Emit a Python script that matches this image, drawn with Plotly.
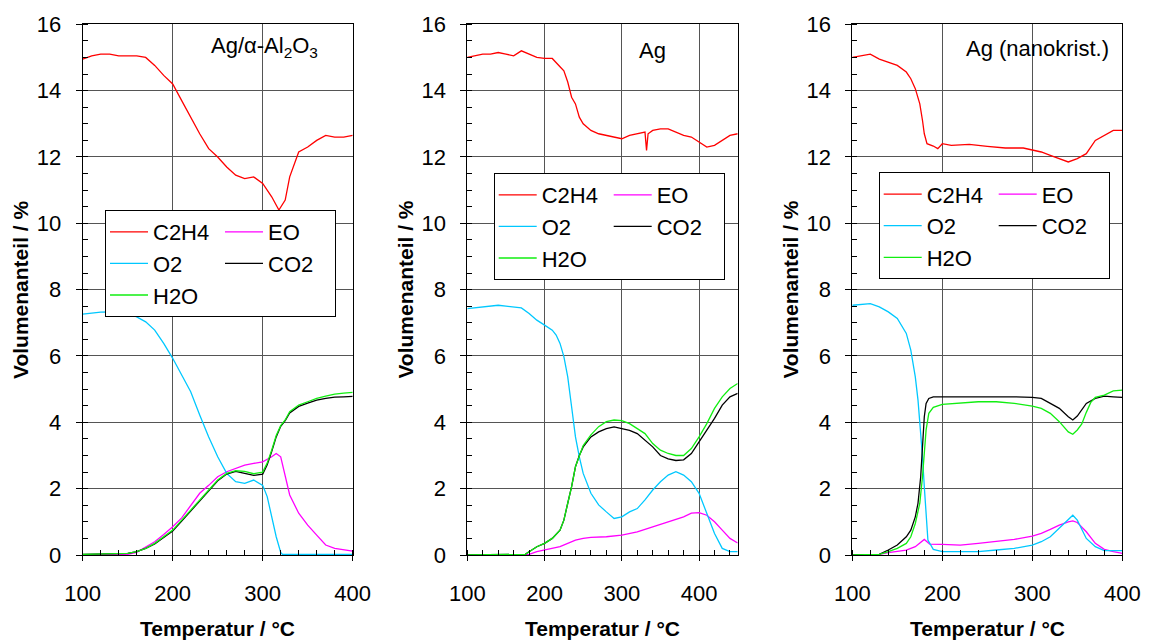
import plotly.graph_objects as go

# ---------------- data ----------------
# Panel 1: Ag/alpha-Al2O3
T1_C2H4 = [100,110,120,130,140,150,160,170,180,190,200,210,220,230,240,250,260,270,280,290,300,310,318,325,330,335,340,350,360,370,380,390,400]
C2H4_1 = [14.95,15.05,15.1,15.1,15.05,15.05,15.05,15.0,14.76,14.46,14.2,13.7,13.2,12.7,12.25,12.0,11.7,11.45,11.35,11.4,11.2,10.8,10.4,10.7,11.4,11.8,12.15,12.3,12.5,12.65,12.6,12.6,12.65]
T1_O2 = [100,110,120,130,140,150,160,170,180,190,200,210,220,230,240,250,260,270,280,290,300,305,310,315,320,322,330,400]
O2_1 = [7.26,7.3,7.32,7.33,7.32,7.3,7.18,7.03,6.78,6.38,5.93,5.42,4.92,4.22,3.56,2.96,2.46,2.21,2.16,2.26,2.1,1.76,1.15,0.55,0.08,0.02,0.02,0.02]
T1_EO = [100,150,160,170,180,190,200,210,220,230,240,250,260,270,280,290,300,310,315,320,325,330,340,350,360,370,380,390,400]
EO_1 = [0.0,0.02,0.08,0.25,0.4,0.62,0.85,1.12,1.48,1.86,2.1,2.36,2.51,2.61,2.71,2.76,2.81,2.96,3.06,2.96,2.36,1.81,1.26,0.9,0.6,0.3,0.2,0.15,0.12]
T1_CO2 = [100,140,150,160,170,180,190,200,210,220,230,240,250,260,270,280,290,300,305,310,315,320,325,330,340,350,360,370,380,390,400]
CO2_1 = [0.02,0.03,0.05,0.1,0.2,0.33,0.52,0.72,1.02,1.33,1.64,1.94,2.24,2.44,2.52,2.46,2.4,2.44,2.72,3.12,3.56,3.88,4.05,4.28,4.48,4.58,4.67,4.72,4.76,4.77,4.78]
H2O_1 = [0.02,0.03,0.05,0.1,0.2,0.35,0.55,0.75,1.05,1.36,1.66,1.96,2.26,2.46,2.54,2.52,2.45,2.5,2.77,3.16,3.6,3.9,4.07,4.32,4.52,4.62,4.72,4.79,4.85,4.88,4.9]

# Panel 2: Ag
T2_C2H4 = [100,110,120,130,140,150,160,170,180,190,200,210,220,225,230,235,240,245,250,260,270,280,290,300,310,320,330,332,334,340,350,360,370,380,390,400,410,420,430,440,450]
C2H4_2 = [15.0,15.05,15.1,15.1,15.15,15.1,15.05,15.2,15.1,15.0,14.97,14.97,14.72,14.6,14.26,13.8,13.6,13.2,13.0,12.8,12.7,12.65,12.6,12.55,12.65,12.7,12.75,12.2,12.7,12.8,12.85,12.85,12.75,12.65,12.6,12.45,12.3,12.35,12.5,12.65,12.7]
T2_O2 = [100,110,120,130,140,150,160,170,180,190,200,210,215,220,225,230,235,240,245,250,260,270,280,290,300,310,320,330,340,350,360,370,380,390,400,410,420,430,440,450]
O2_2 = [7.43,7.45,7.48,7.5,7.53,7.5,7.48,7.45,7.28,7.08,6.93,6.78,6.63,6.38,5.98,5.37,4.47,3.56,2.96,2.46,1.86,1.51,1.3,1.1,1.15,1.3,1.4,1.66,1.96,2.21,2.41,2.51,2.41,2.21,1.86,1.26,0.65,0.2,0.1,0.1]
T2_EO = [100,170,180,190,200,210,220,230,240,250,260,280,300,320,340,360,380,390,400,410,420,430,440,450]
EO_2 = [0,0,0.02,0.1,0.15,0.2,0.25,0.35,0.45,0.5,0.53,0.55,0.6,0.7,0.85,1.0,1.15,1.26,1.28,1.2,1.0,0.75,0.5,0.36]
T2_CO2 = [100,170,175,180,190,200,210,220,225,230,235,240,245,250,260,270,280,290,300,310,320,330,340,350,360,370,380,390,400,410,420,430,440,450]
CO2_2 = [0,0,0.02,0.1,0.25,0.35,0.5,0.75,1.05,1.56,2.06,2.66,3.0,3.26,3.56,3.71,3.81,3.86,3.81,3.76,3.66,3.46,3.26,3.0,2.9,2.85,2.87,3.06,3.41,3.76,4.12,4.52,4.77,4.87]
H2O_2 = [0,0,0.02,0.1,0.25,0.35,0.5,0.75,1.05,1.56,2.06,2.66,3.0,3.3,3.62,3.87,4.02,4.07,4.05,3.96,3.81,3.66,3.36,3.16,3.06,3.0,3.0,3.21,3.56,3.96,4.42,4.77,5.02,5.17]

# Panel 3: Ag (nanokrist.)
T3_C2H4 = [100,110,120,130,140,150,160,165,170,175,178,180,183,190,195,200,210,230,250,270,290,300,310,320,330,340,350,360,370,380,390,400]
C2H4_3 = [15.0,15.05,15.1,14.95,14.86,14.76,14.56,14.36,14.06,13.6,13.1,12.7,12.4,12.33,12.25,12.4,12.35,12.38,12.32,12.27,12.27,12.2,12.15,12.05,11.95,11.85,11.95,12.1,12.5,12.65,12.8,12.8]
T3_O2 = [100,110,120,130,140,150,160,165,170,173,176,178,180,182,184,190,200,220,240,260,280,300,310,320,330,340,345,350,355,360,370,380,390,400]
O2_3 = [7.53,7.56,7.58,7.48,7.33,7.13,6.68,6.18,5.37,4.67,3.77,2.96,2.06,1.15,0.45,0.17,0.1,0.1,0.1,0.15,0.2,0.3,0.4,0.55,0.8,1.05,1.2,1.05,0.75,0.5,0.25,0.13,0.13,0.13]
T3_EO = [100,120,130,140,150,160,170,176,180,183,186,200,220,240,260,280,300,310,320,330,340,345,350,360,370,380,390,400]
EO_3 = [0,0,0.02,0.07,0.1,0.15,0.25,0.4,0.47,0.4,0.33,0.32,0.3,0.35,0.4,0.47,0.57,0.65,0.77,0.9,1.0,1.03,0.98,0.7,0.35,0.17,0.1,0.05]
T3_CO2 = [100,120,130,140,150,160,165,170,173,176,178,180,182,185,190,200,220,240,260,280,300,310,320,330,340,345,350,355,360,370,380,390,400]
CO2_3 = [0,0,0.02,0.15,0.3,0.55,0.75,1.15,1.56,2.36,3.26,4.17,4.57,4.72,4.77,4.77,4.78,4.78,4.78,4.77,4.75,4.72,4.57,4.42,4.17,4.07,4.19,4.37,4.57,4.72,4.79,4.77,4.75]
T3_H2O = [100,120,130,140,150,160,165,170,175,178,180,182,185,190,200,220,240,260,280,300,310,320,330,340,345,350,355,360,365,370,380,390,400]
H2O_3 = [0,0,0.02,0.1,0.2,0.35,0.55,0.95,1.56,2.36,3.06,3.77,4.27,4.45,4.54,4.57,4.62,4.62,4.57,4.49,4.42,4.27,4.02,3.71,3.64,3.77,3.95,4.3,4.6,4.75,4.82,4.95,4.97]

PANEL_TITLES = ["Ag/α-Al<sub>2</sub>O<sub>3</sub>", "Ag", "Ag (nanokrist.)"]
X_TICKS = [100, 200, 300, 400]
X_RANGES = [[100, 400], [100, 450], [100, 400]]
Y_RANGE = [0, 16]
X_TITLE = "Temperatur / °C"
Y_TITLE = "Volumenanteil / %"

# ---------------- styling ----------------
W, H = 1149, 640
FONT = "Liberation Sans, Arial, sans-serif"
COLORS = {"C2H4": "#FF0000", "EO": "#FF00FF", "O2": "#00C8FF", "CO2": "#000000", "H2O": "#11EE11"}
GRID = "#555555"

panels = [
    {"C2H4": (T1_C2H4, C2H4_1), "EO": (T1_EO, EO_1), "O2": (T1_O2, O2_1), "CO2": (T1_CO2, CO2_1), "H2O": (T1_CO2, H2O_1)},
    {"C2H4": (T2_C2H4, C2H4_2), "EO": (T2_EO, EO_2), "O2": (T2_O2, O2_2), "CO2": (T2_CO2, CO2_2), "H2O": (T2_CO2, H2O_2)},
    {"C2H4": (T3_C2H4, C2H4_3), "EO": (T3_EO, EO_3), "O2": (T3_O2, O2_3), "CO2": (T3_CO2, CO2_3), "H2O": (T3_H2O, H2O_3)},
]

# pixel layout of each plot area: (left, right) in px ; top/bottom shared
px_lr = [(82.7, 352.7), (467.3, 737.7), (852.3, 1122.3)]
py_top, py_bot = 24.3, 555.0

def fx(px):
    return px / W

def fy(py):
    return 1 - py / H

fig = go.Figure()
order = ["C2H4", "EO", "O2", "CO2", "H2O"]
group = {"C2H4": "a", "O2": "a", "H2O": "a", "EO": "b", "CO2": "b"}

for i, pdata in enumerate(panels):
    sfx = "" if i == 0 else str(i + 1)
    leg = "legend" if i == 0 else f"legend{i+1}"
    for name in order:
        xs, ys = pdata[name]
        fig.add_trace(go.Scatter(
            x=xs, y=ys, mode="lines", name=name,
            line=dict(color=COLORS[name], width=1.3),
            xaxis="x" + sfx, yaxis="y" + sfx,
            legend=leg, legendgroup=f"{i}{group[name]}",
            showlegend=True,
        ))

layout = dict(
    width=W, height=H,
    margin=dict(l=0, r=0, t=0, b=0, autoexpand=False),
    paper_bgcolor="white", plot_bgcolor="white",
    font=dict(family=FONT, size=22, color="black"),
    showlegend=True,
)

legend_pos = [(105, 210), (493.7, 173), (878.7, 172.3)]
shapes = []
annotations = []
box_px = [(200, 26, 335, 65), (605, 26, 706, 70), (950, 26, 1120, 88)]
title_c = [(264, 46.7), (652, 50), (1037, 48.3)]

for i in range(3):
    sfx = "" if i == 0 else str(i + 1)
    l, r = px_lr[i]
    layout["xaxis" + sfx] = dict(
        domain=[fx(l), fx(r)], range=X_RANGES[i], anchor="y" + sfx,
        tickvals=X_TICKS, ticks="outside", ticklen=5, tickcolor="black",
        showgrid=True, gridcolor=GRID, gridwidth=1,
        showline=True, linecolor="black", linewidth=1, mirror=True, zeroline=False,
        minor=dict(dtick=20, tick0=100, ticks="inside", ticklen=5, tickcolor="black", showgrid=False),
        tickfont=dict(size=22), ticklabelstandoff=14, automargin=False,
    )
    layout["yaxis" + sfx] = dict(
        domain=[fy(py_bot), fy(py_top)], range=Y_RANGE, anchor="x" + sfx,
        dtick=2, tick0=0, ticks="outside", ticklen=6, tickcolor="black",
        showgrid=True, gridcolor=GRID, gridwidth=1,
        showline=True, linecolor="black", linewidth=1, mirror=True, zeroline=False,
        minor=dict(dtick=0.5, tick0=0, ticks="inside", ticklen=5, tickcolor="black", showgrid=False),
        tickfont=dict(size=22), ticklabelstandoff=10, automargin=False,
    )
    lx, ly = legend_pos[i]
    layout["legend" if i == 0 else f"legend{i+1}"] = dict(
        x=fx(lx), y=fy(ly), xanchor="left", yanchor="top",
        orientation="h", traceorder="grouped",
        bgcolor="white", bordercolor="black", borderwidth=1,
        font=dict(size=22, family=FONT), itemwidth=38,
        entrywidth=62, entrywidthmode="pixels",
        tracegroupgap=0,
    )
    x0, y0, x1, y1 = box_px[i]
    shapes.append(dict(type="rect", xref="paper", yref="paper",
                       x0=fx(x0), x1=fx(x1), y0=fy(y1), y1=fy(y0),
                       fillcolor="white", line=dict(width=0), layer="between"))
    cx, cy = title_c[i]
    annotations.append(dict(text=PANEL_TITLES[i], x=fx(cx), y=fy(cy), xref="paper", yref="paper",
                            showarrow=False, xanchor="center", yanchor="middle",
                            font=dict(size=22, family=FONT)))
    # axis titles
    annotations.append(dict(text=f"<b>{X_TITLE}</b>", x=fx((l + r) / 2), y=fy(628), xref="paper", yref="paper",
                            showarrow=False, xanchor="center", yanchor="middle",
                            font=dict(size=21, family=FONT)))
    annotations.append(dict(text=f"<b>{Y_TITLE}</b>", x=fx(l - 62.7), y=fy(290), xref="paper", yref="paper",
                            showarrow=False, xanchor="center", yanchor="middle", textangle=-90,
                            font=dict(size=21, family=FONT)))

layout["shapes"] = shapes
layout["annotations"] = annotations
fig.update_layout(**layout)
fig.write_html("out.html")
